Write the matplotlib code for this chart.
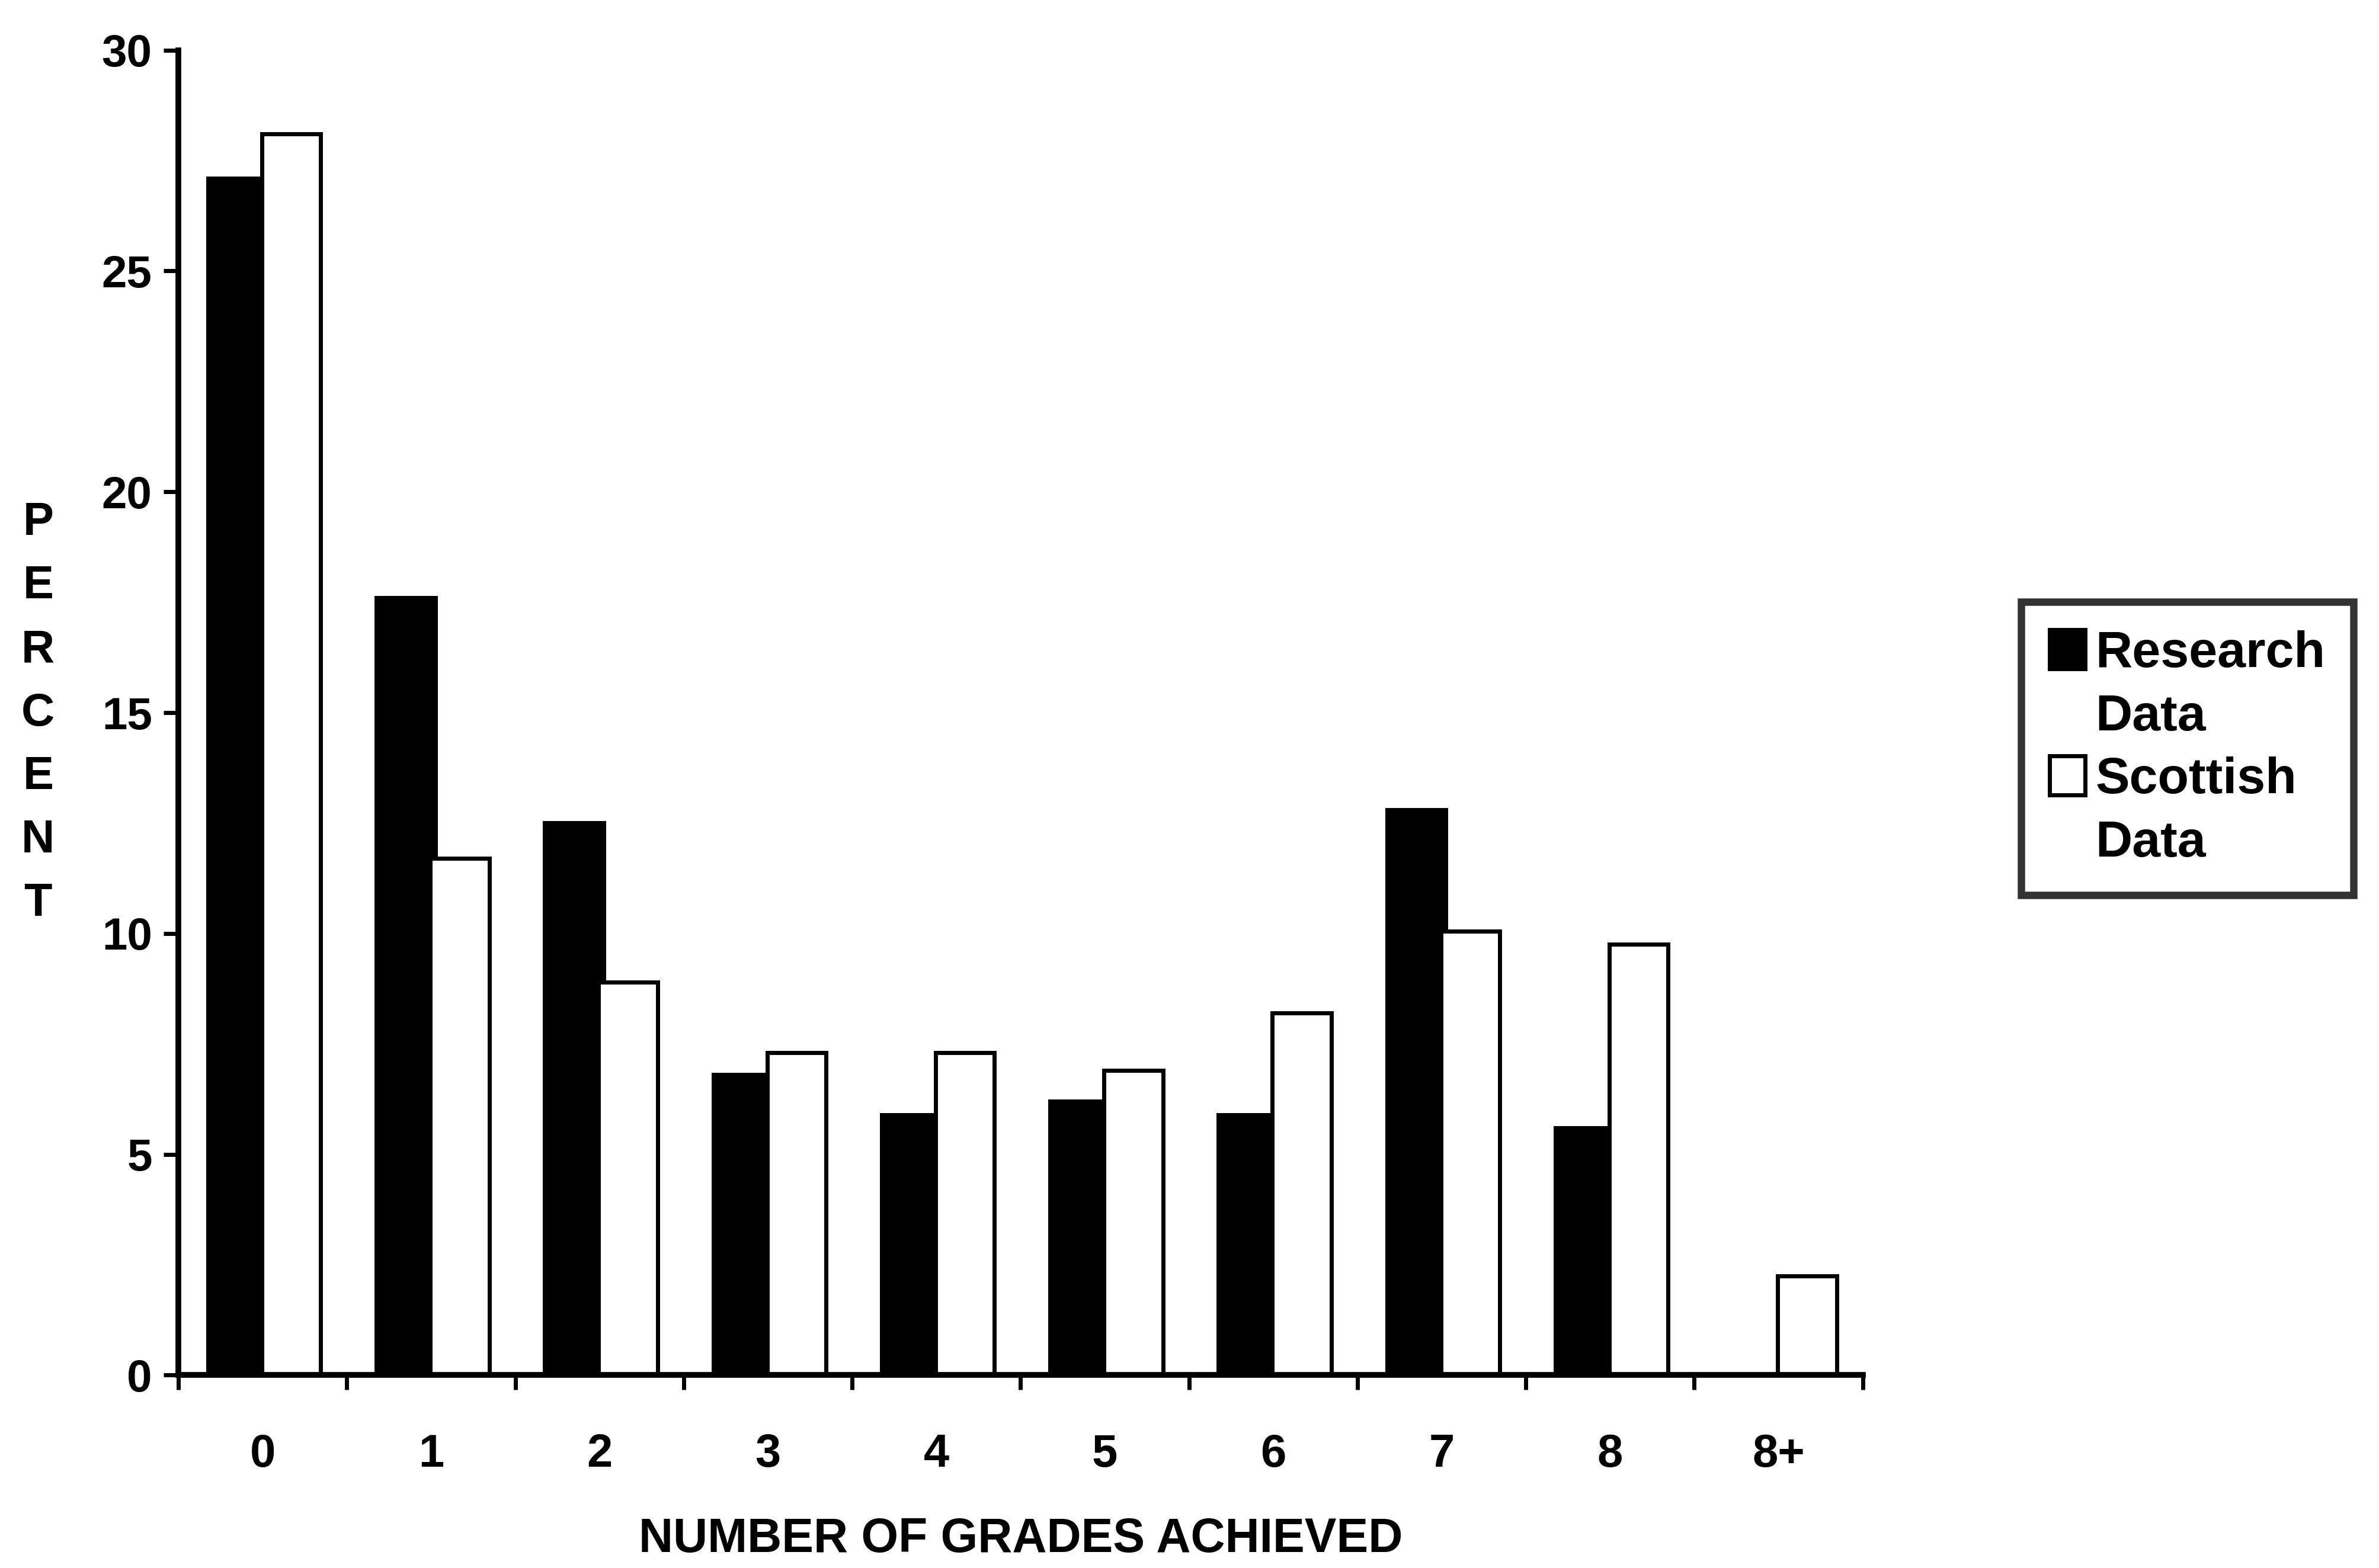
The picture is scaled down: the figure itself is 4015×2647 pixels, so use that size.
import numpy as np
import matplotlib.pyplot as plt
from matplotlib.patches import Rectangle

categories = ['0', '1', '2', '3', '4', '5', '6', '7', '8', '8+']
research = [27.1, 17.6, 12.5, 6.8, 5.9, 6.2, 5.9, 12.8, 5.6, 0]
scottish = [28.1, 11.7, 8.9, 7.3, 7.3, 6.9, 8.2, 10.05, 9.75, 2.25]
yticks = [0, 5, 10, 15, 20, 25, 30]

plt.rcParams['font.family'] = ['Liberation Sans', 'DejaVu Sans']
plt.rcParams['font.weight'] = 'bold'
narrow = ['Liberation Sans Narrow', 'Liberation Sans']

fig = plt.figure(figsize=(40.15, 26.47), dpi=100)
ax = fig.add_axes([0.075, 0.123, 0.708, 0.845])

x = np.arange(len(categories))
w = 0.35
b1 = ax.bar(x - 0.15, research, w, color='black', edgecolor='black', linewidth=5)
b2 = ax.bar(x + 0.17, scottish, w, color='white', edgecolor='black', linewidth=5)

ax.set_xlim(-0.5, len(categories) - 0.5)
ax.set_ylim(0, 30)
ax.set_yticks(yticks)
ax.set_yticklabels([str(v) for v in yticks], fontsize=55, fontweight='bold')

# tick marks at group boundaries, labels at group centres
ax.set_xticks(np.arange(len(categories) + 1) - 0.5)
ax.set_xticklabels([])
ax.set_xticks(x, minor=True)
ax.set_xticklabels(categories, minor=True, fontsize=56, fontweight='bold',
                   family=narrow)
ax.tick_params(axis='x', which='minor', length=0, pad=70)
ax.tick_params(axis='both', which='major', direction='out', length=18, width=5)
ax.tick_params(axis='y', pad=14)

for s in ['top', 'right']:
    ax.spines[s].set_visible(False)
ax.spines['left'].set_linewidth(7)
ax.spines['bottom'].set_linewidth(7)

ax.set_xlabel('NUMBER OF GRADES ACHIEVED', fontsize=58, fontweight='bold',
              family=narrow, labelpad=50)
fig.text(0.016, 0.545, 'P\nE\nR\nC\nE\nN\nT', fontsize=56, fontweight='bold',
         ha='center', va='center', linespacing=1.6)

blank = Rectangle((0, 0), 1, 1, fill=False, edgecolor='none')
leg = ax.legend([b1, blank, b2, blank], ['Research', 'Data', 'Scottish', 'Data'],
                loc='center left', bbox_to_anchor=(1.079, 0.473), fontsize=62,
                frameon=True, fancybox=False, edgecolor='black',
                handlelength=0.7, handleheight=0.8, handletextpad=0.2,
                borderpad=0.55, labelspacing=0.3)
leg.get_frame().set_linewidth(9)
for t in leg.get_texts():
    t.set_fontweight('bold')

fig.savefig('out.png', dpi=100, facecolor='white')
